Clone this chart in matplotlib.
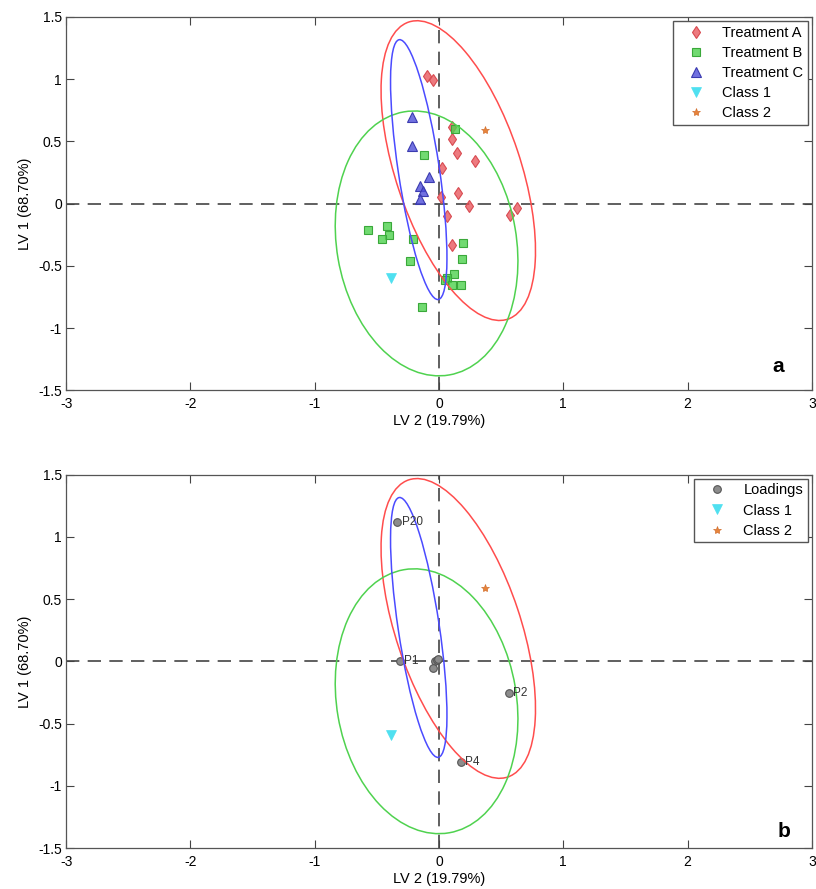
import matplotlib

matplotlib.use("agg")
import matplotlib.pyplot as plt
import numpy as np
from matplotlib.patches import Ellipse

plt.rcParams["font.family"] = ["Liberation Sans", "DejaVu Sans"]
plt.rcParams["font.size"] = 10

# Scores (LV2, LV1) per group
treat_a_x = [-0.094, -0.051, 0.107, 0.102, 0.145, 0.292, 0.021, 0.150, 0.016, 0.241, 0.629, 0.570, 0.064, 0.102]
treat_a_y = [1.028, 0.996, 0.613, 0.519, 0.410, 0.343, 0.284, 0.088, 0.051, -0.021, -0.037, -0.094, -0.102, -0.332]

treat_b_x = [0.126, -0.120, -0.415, -0.568, -0.402, -0.455, -0.212, 0.195, 0.187, -0.233, 0.120, 0.067, 0.046, 0.102, 0.179, -0.134]
treat_b_y = [0.597, 0.394, -0.179, -0.212, -0.252, -0.281, -0.281, -0.313, -0.442, -0.458, -0.562, -0.597, -0.610, -0.656, -0.651, -0.827]

treat_c_x = [-0.217, -0.220, -0.078, -0.153, -0.126, -0.155]
treat_c_y = [0.696, 0.461, 0.217, 0.145, 0.102, 0.037]

class1_x = [-0.385]
class1_y = [-0.595]
class2_x = [0.366]
class2_y = [0.593]

# Loadings
load_x = [-0.335, -0.313, -0.035, -0.018, -0.010, -0.051, 0.560, 0.177]
load_y = [1.119, 0.002, 0.002, 0.010, 0.020, -0.054, -0.257, -0.809]
load_names = ["P20", "P1", "", "", "", "", "P2", "P4"]

# Confidence ellipses: centre (x, y) and covariance (sxx, syy, sxy)
ell_centres = {"red": (0.155, 0.265), "green": (-0.10, -0.32), "blue": (-0.163, 0.273)}
ell_cov = {"red": (0.386, 1.450, -0.400), "green": (0.540, 1.132, -0.105), "blue": (0.0515, 1.090, -0.160)}
ell_colors = {"red": "#ff4d4d", "green": "#4fd24f", "blue": "#4b4bff"}


def add_ellipse(ax, key):
    sxx, syy, sxy = ell_cov[key]
    vals, vecs = np.linalg.eigh(np.array([[sxx, sxy], [sxy, syy]]))
    angle = np.degrees(np.arctan2(vecs[1, 1], vecs[0, 1]))
    e = Ellipse(ell_centres[key], width=2 * np.sqrt(vals[1]), height=2 * np.sqrt(vals[0]),
                angle=angle, fill=False, edgecolor=ell_colors[key], lw=1.1, zorder=4)
    ax.add_patch(e)


def style_axes(ax):
    ax.set_xlim(-3, 3)
    ax.set_ylim(-1.5, 1.5)
    ax.set_xticks([-3, -2, -1, 0, 1, 2, 3])
    ax.set_xticklabels(["-3", "-2", "-1", "0", "1", "2", "3"])
    ax.set_yticks([-1.5, -1, -0.5, 0, 0.5, 1, 1.5])
    ax.set_yticklabels(["-1.5", "-1", "-0.5", "0", "0.5", "1", "1.5"])
    ax.tick_params(direction="in", top=True, right=True, length=6, width=0.8,
                   color="#444444", labelsize=10)
    ax.tick_params(axis="x", pad=5)
    ax.tick_params(axis="y", pad=3)
    for s in ax.spines.values():
        s.set_color("#555555")
        s.set_linewidth(0.9)
    ax.axhline(0, color="#444444", lw=1.2, dashes=(8, 5), zorder=1)
    ax.axvline(0, color="#444444", lw=1.2, dashes=(8, 5), zorder=1)
    ax.set_xlabel("LV 2 (19.79%)", fontsize=10.5, labelpad=2)
    ax.set_ylabel("LV 1 (68.70%)", fontsize=10.5, labelpad=4)
    for k in ell_centres:
        add_ellipse(ax, k)


legend_opts = dict(loc="upper right", fancybox=False, edgecolor="#555555", framealpha=1,
                   fontsize=10.5, handletextpad=0.5, borderaxespad=0.3, labelspacing=0.42,
                   handlelength=2.6, borderpad=0.3)

fig = plt.figure(figsize=(8.16, 8.89), dpi=100)
ax1 = fig.add_axes([0.081, 0.561, 0.914, 0.420])
ax2 = fig.add_axes([0.081, 0.046, 0.914, 0.420])

# (a) scores
style_axes(ax1)
ax1.plot(treat_a_x, treat_a_y, "d", ms=6, mfc=(0.91, 0.30, 0.33, 0.75), mec="#d84a50", mew=0.8,
         ls="none", label="Treatment A", zorder=3)
ax1.plot(treat_b_x, treat_b_y, "s", ms=6, mfc=(0.30, 0.82, 0.30, 0.8), mec="#3aa83a", mew=0.8,
         ls="none", label="Treatment B", zorder=3)
ax1.plot(treat_c_x, treat_c_y, "^", ms=6.5, mfc=(0.30, 0.30, 0.85, 0.8), mec="#3b3bb0", mew=0.8,
         ls="none", label="Treatment C", zorder=3)
ax1.plot(class1_x, class1_y, "v", ms=6.5, mfc="#4fe0f0", mec="#4fe0f0", mew=0.5,
         ls="none", label="Class 1", zorder=3)
ax1.plot(class2_x, class2_y, "*", ms=6, mfc="#e8843a", mec="#d27030", mew=0.5,
         ls="none", label="Class 2", zorder=3)
ax1.legend(**legend_opts)
ax1.text(0.955, 0.065, "a", transform=ax1.transAxes, fontsize=15, fontweight="bold",
         ha="center", va="center")

# (b) loadings
style_axes(ax2)
ax2.plot(load_x, load_y, "o", ms=5.5, mfc="#8c8c8c", mec="#555555", mew=0.8,
         ls="none", label="Loadings", zorder=3)
ax2.plot(class1_x, class1_y, "v", ms=6.5, mfc="#4fe0f0", mec="#4fe0f0", mew=0.5,
         ls="none", label="Class 1", zorder=3)
ax2.plot(class2_x, class2_y, "*", ms=6, mfc="#e8843a", mec="#d27030", mew=0.5,
         ls="none", label="Class 2", zorder=3)
for x, y, name in zip(load_x, load_y, load_names):
    if name:
        ax2.text(x + 0.035, y, name, fontsize=8.5, color="#333333", ha="left", va="center", zorder=5)
ax2.legend(**legend_opts)
ax2.text(0.963, 0.045, "b", transform=ax2.transAxes, fontsize=15, fontweight="bold",
         ha="center", va="center")

fig.savefig("out.png", dpi=100)
